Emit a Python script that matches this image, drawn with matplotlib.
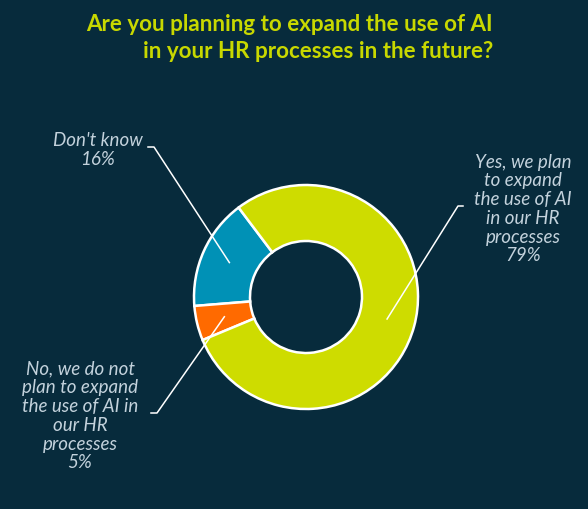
import numpy as np
import matplotlib
matplotlib.use("Agg")
import matplotlib.pyplot as plt

categories = ["Don't know", "No, we do not\nplan to expand\nthe use of AI in\nour HR\nprocesses",
              "Yes, we plan\nto expand\nthe use of AI\nin our HR\nprocesses"]
values = [16, 5, 79]
colors = ["#0091b6", "#ff6a00", "#cedc00"]
title = "Are you planning to expand the use of AI\nin your HR processes in the future?"

BG = "#072b3c"
W, H = 588, 510
fig = plt.figure(figsize=(W / 100, H / 100), dpi=100, facecolor=BG)
ax = fig.add_axes([0, 0, 1, 1])
ax.set_facecolor(BG)

cx, cy, R, ring = 306, H - 298, 112, 56
start = 127
wedges, _ = ax.pie(values, colors=colors, startangle=start, counterclock=True,
                   center=(cx, cy), radius=R, frame=True,
                   wedgeprops=dict(width=ring, edgecolor="white", linewidth=1.8))
ax.set_xlim(0, W)
ax.set_ylim(0, H)
ax.set_aspect("equal")
ax.axis("off")

fig.text(493 / W, 1 - 38 / H, title, ha="right", va="center", color="#c8d800",
         fontsize=16.1, fontweight="bold", family=["Lato", "DejaVu Sans"], linespacing=1.3)

lab_color = "#c3d2dc"
labels_layout = [
    dict(pos=(98, 150), anchor=(148, 148), elbow=(154, 148)),
    dict(pos=(80, 416), anchor=(151, 414), elbow=(157, 414)),
    dict(pos=(523, 209), anchor=(463, 207), elbow=(458, 207)),
]
for w, cat, v, lay in zip(wedges, categories, values, labels_layout):
    mid = np.deg2rad((w.theta1 + w.theta2) / 2)
    rr = R - ring / 2
    ex, ey = cx + rr * np.cos(mid), cy + rr * np.sin(mid)
    ax.text(lay["pos"][0], H - lay["pos"][1], f"{cat}\n{v}%", ha="center", va="center",
            color=lab_color, fontsize=13.5, style="italic", family=["Lato", "DejaVu Sans"],
            linespacing=1.12)
    ax.plot([lay["anchor"][0], lay["elbow"][0], ex], [H - lay["anchor"][1], H - lay["elbow"][1], ey],
            color="white", lw=1.1, zorder=5)

fig.savefig("out.png", dpi=100, facecolor=BG)
